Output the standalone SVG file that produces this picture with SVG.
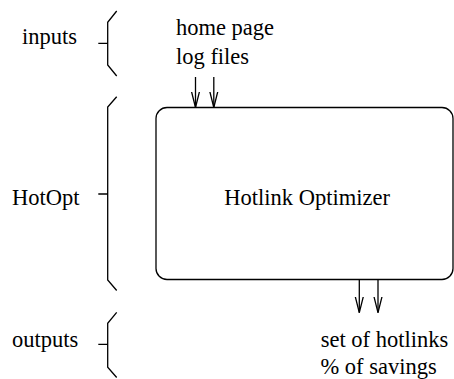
<svg xmlns="http://www.w3.org/2000/svg" width="454" height="379" viewBox="0 0 454 379">
<defs>
<style>
text{font-family:"Liberation Serif","Times New Roman","DejaVu Serif",serif;font-size:22.5px;fill:#000}
.ln{fill:none;stroke:#000;stroke-width:1.3}
.br{fill:none;stroke:#000;stroke-width:1.3}
</style>
<marker id="ah" markerWidth="18" markerHeight="10" refX="16" refY="5" orient="auto" markerUnits="userSpaceOnUse" viewBox="0 0 18 10">
<path d="M0,1 L16,5 L0,9" fill="none" stroke="#000" stroke-width="1.3"/>
</marker>
</defs>
<g id="brace-inputs">
<path class="br" d="M116.7,11 L107.7,22.3 L107.7,65 L116.7,76 M98.3,43.3 L107.7,43.3"/>
<text x="22" y="43.5" font-family="Liberation Serif, serif">inputs</text>
</g>
<g id="brace-hotopt">
<path class="br" d="M116.7,96.7 L107.7,107 L107.7,280 L116.7,290.5 M98.3,194 L107.7,194"/>
<text x="12" y="205" font-family="Liberation Serif, serif">HotOpt</text>
</g>
<g id="brace-outputs">
<path class="br" d="M116.7,312.3 L107.7,323.3 L107.7,367.3 L116.7,377.5 M98.3,344.3 L107.7,344.3"/>
<text x="12" y="347" font-family="Liberation Serif, serif">outputs</text>
</g>
<g id="input-labels">
<text x="176" y="35" font-family="Liberation Serif, serif">home page</text>
<text x="176" y="63.5" font-family="Liberation Serif, serif">log files</text>
</g>
<g id="optimizer">
<rect x="156" y="107.5" width="297" height="172" rx="11" ry="11" class="ln"/>
<text x="224.3" y="205" font-family="Liberation Serif, serif">Hotlink Optimizer</text>
</g>
<g id="output-labels">
<text x="320.7" y="347" font-family="Liberation Serif, serif">set of hotlinks</text>
<text x="320.5" y="373.5" font-family="Liberation Serif, serif">% of savings</text>
</g>
<g id="connectors">
<line class="ln" x1="195.5" y1="77" x2="195.5" y2="107.5" marker-end="url(#ah)"/>
<line class="ln" x1="213.8" y1="77" x2="213.8" y2="107.5" marker-end="url(#ah)"/>
<line class="ln" x1="359.3" y1="279.5" x2="359.3" y2="312.7" marker-end="url(#ah)"/>
<line class="ln" x1="378" y1="279.5" x2="378" y2="312.7" marker-end="url(#ah)"/>
</g>
</svg>
